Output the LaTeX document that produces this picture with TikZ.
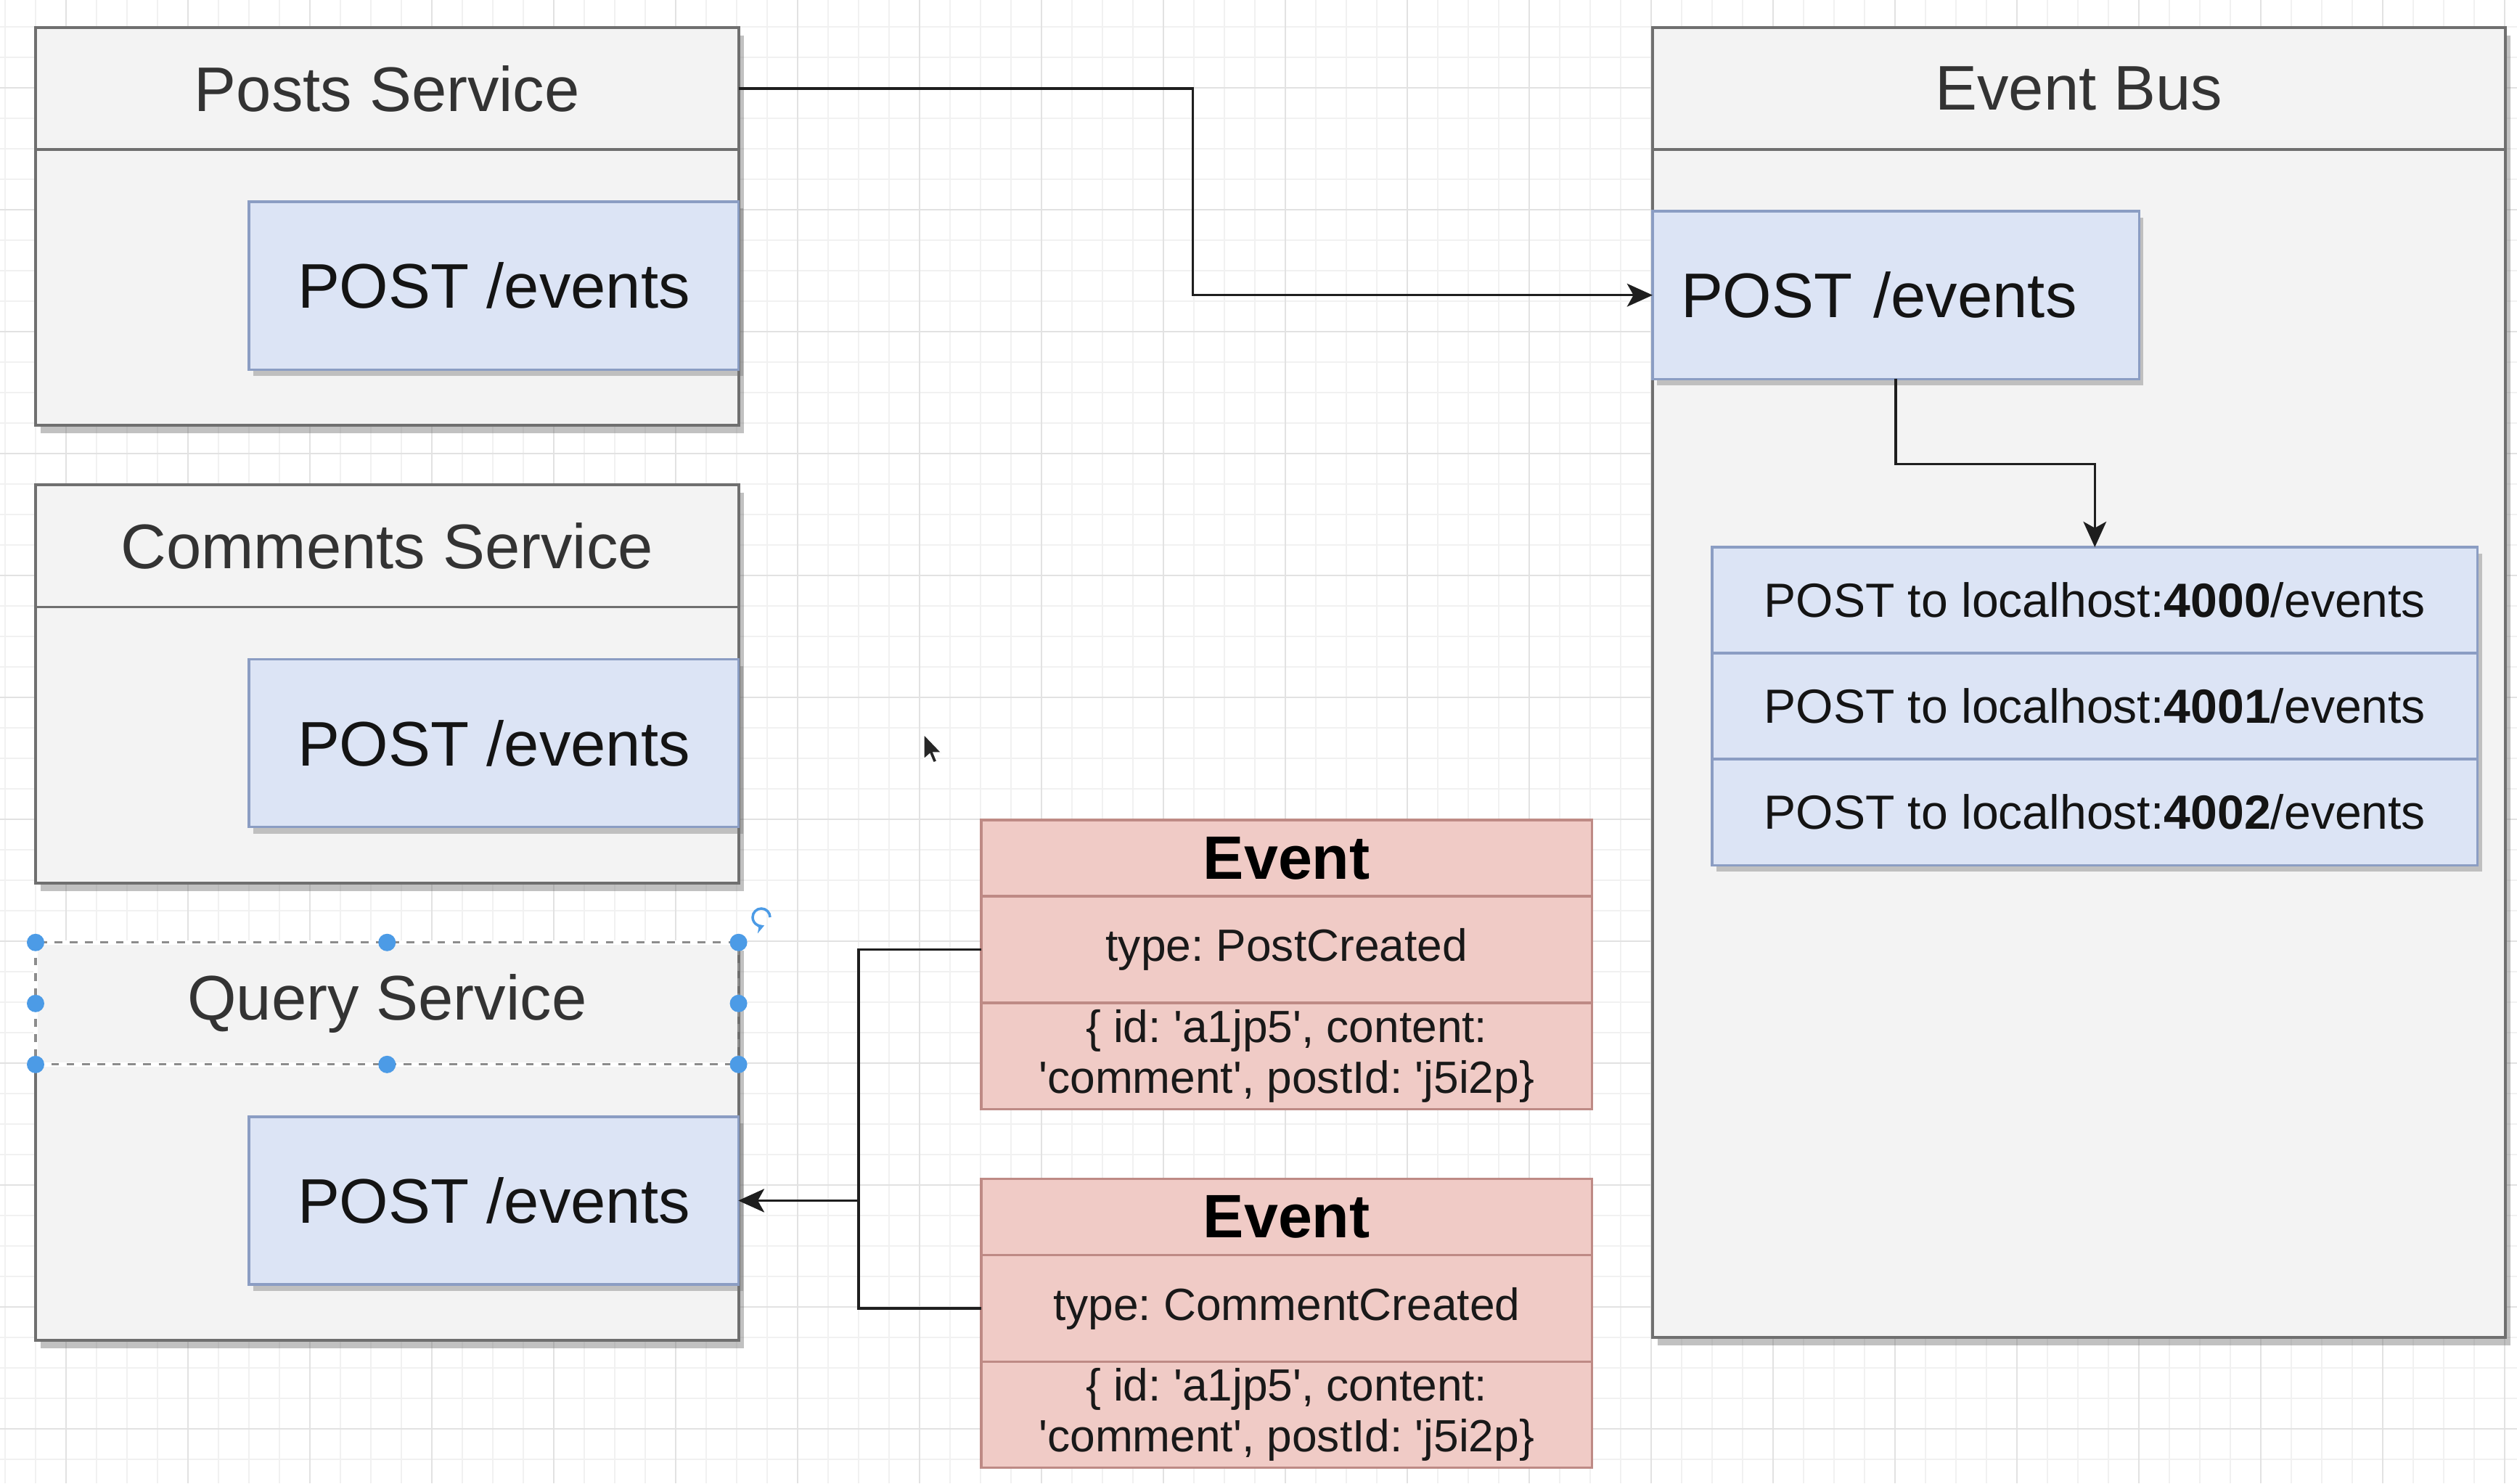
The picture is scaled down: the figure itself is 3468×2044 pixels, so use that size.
\documentclass[tikz,border=0pt]{standalone}
\usepackage{fontspec}
\setmainfont{Liberation Sans}
\usetikzlibrary{positioning, shadows, arrows.meta}

\definecolor{boxfill}{HTML}{F3F3F3}
\definecolor{boxline}{HTML}{6F6F6F}
\definecolor{headtext}{HTML}{333333}
\definecolor{blufill}{HTML}{DCE4F5}
\definecolor{bluline}{HTML}{8B9DC3}
\definecolor{redfill}{HTML}{F0CBC6}
\definecolor{redline}{HTML}{BE8A85}
\definecolor{linkcol}{HTML}{1E1E1E}
\definecolor{gridminor}{HTML}{F1F1F1}
\definecolor{gridmajor}{HTML}{E2E2E2}
\definecolor{selblue}{HTML}{4C9BE6}

\newcommand{\apos}{\textquotesingle}
\frenchspacing

\begin{document}
\begin{tikzpicture}[x=0.01cm, y=-0.01cm, outer sep=0pt,
    svcbox/.style={draw=boxline, fill=boxfill, line width=1.1pt, inner sep=0pt,
      minimum width=9.68cm, minimum height=5.48cm,
      drop shadow={shadow xshift=0.07cm, shadow yshift=-0.11cm, opacity=0.4, fill=black!60}},
    svchead/.style={draw=boxline, line width=1.1pt, inner sep=0pt, text=headtext,
      minimum width=9.68cm, minimum height=1.68cm, font=\fontsize{24.7}{29}\selectfont},
    endpoint/.style={draw=bluline, fill=blufill, line width=1pt, inner sep=0pt, text=black!92,
      minimum width=6.74cm, minimum height=2.31cm, font=\fontsize{24.7}{29}\selectfont,
      drop shadow={shadow xshift=0.06cm, shadow yshift=-0.09cm, opacity=0.4, fill=black!55}},
    hostrow/.style={draw=bluline, fill=blufill, line width=1pt, inner sep=0pt, text=black!92,
      minimum width=10.54cm, minimum height=1.46cm, font=\fontsize{18.8}{22}\selectfont,
      drop shadow={shadow xshift=0.06cm, shadow yshift=-0.09cm, opacity=0.4, fill=black!55}},
    evtitle/.style={draw=redline, fill=redfill, line width=1pt, inner sep=0pt, text=black,
      minimum width=8.41cm, minimum height=1.05cm, font=\fontsize{24}{28}\selectfont\bfseries},
    evrow/.style={draw=redline, fill=redfill, line width=1pt, inner sep=0pt, text=black!90,
      minimum width=8.41cm, minimum height=1.47cm, align=center, font=\fontsize{17.7}{20}\selectfont},
    link/.style={draw=linkcol, line width=1pt, -{Stealth[length=10pt, width=9pt, inset=2.5pt]}},
    seldot/.style={circle, fill=selblue, inner sep=0pt, minimum size=0.24cm}]

  \useasboundingbox (0,0) rectangle (3468,2044);
  \fill[white] (0,0) rectangle (3468,2044);
  \foreach \k in {0,...,82}
    \draw[gridminor, line width=0.6pt] ({7+42*\k},0) -- ({7+42*\k},2044);
  \foreach \k in {0,...,47}
    \draw[gridminor, line width=0.6pt] (0,{37+42*\k}) -- (3468,{37+42*\k});
  \foreach \k in {0,...,20}
    \draw[gridmajor, line width=0.6pt] ({91+168*\k},0) -- ({91+168*\k},2044);
  \foreach \k in {0,...,11}
    \draw[gridmajor, line width=0.6pt] (0,{121+168*\k}) -- (3468,{121+168*\k});

  \node[svcbox, anchor=north west] (postsBox) at (49,38) {};
  \node[svchead, anchor=north] (postsHead) at (postsBox.north) {Posts Service};
  \node[endpoint, anchor=north east] (postsPost) at ([yshift=-2.40cm]postsBox.north east) {POST /events};

  \node[svcbox] [below=0.82cm of postsBox] (commentsBox) {};
  \node[svchead, anchor=north] (commentsHead) at (commentsBox.north) {Comments Service};
  \node[endpoint, anchor=north east] (commentsPost) at ([yshift=-2.40cm]commentsBox.north east) {POST /events};

  \node[svcbox] [below=0.82cm of commentsBox] (queryBox) {};
  \node[svchead, draw=none, anchor=north] (queryHead) at (queryBox.north) {Query Service};
  \node[endpoint, anchor=north east] (queryPost) at ([yshift=-2.40cm]queryBox.north east) {POST /events};

  \node[svcbox, minimum width=11.74cm, minimum height=18.04cm, anchor=north west] (busBox) at (2277,38) {};
  \node[svchead, minimum width=11.74cm, anchor=north] (busHead) at (busBox.north) {Event Bus};
  \node[endpoint, minimum width=6.70cm, text width=5.92cm, align=left, inner xsep=0.39cm, anchor=north west]
    (busPost) at ([yshift=-2.53cm]busBox.north west) {POST /events};

  \node[hostrow, anchor=north west] (host0) at (2359,754) {POST to localhost:\textbf{4000}/events};
  \node[hostrow] [below=0pt of host0] (host1) {POST to localhost:\textbf{4001}/events};
  \node[hostrow] [below=0pt of host1] (host2) {POST to localhost:\textbf{4002}/events};

  \node[evtitle, anchor=north west] (ev1Head) at (1352,1130) {Event};
  \node[evrow] [below=0pt of ev1Head] (ev1Type) {type: PostCreated};
  \node[evrow, minimum height=1.46cm] [below=0pt of ev1Type] (ev1Data)
    {\{ id: \apos a1jp5\apos, content:\\\apos comment\apos, postId: \apos j5i2p\}};
  \node[evtitle] [below=0.96cm of ev1Data] (ev2Head) {Event};
  \node[evrow] [below=0pt of ev2Head] (ev2Type) {type: CommentCreated};
  \node[evrow, minimum height=1.46cm] [below=0pt of ev2Type] (ev2Data)
    {\{ id: \apos a1jp5\apos, content:\\\apos comment\apos, postId: \apos j5i2p\}};

  \draw[link] (postsHead.east) -- ++(626,0) |- (busPost.west);
  \draw[link] (busPost.south) -- ++(0,117) -| (host0.north);
  \draw[link] (ev1Type.west) -- ++(-169,0) |- (queryPost.east);
  \draw[link] (ev2Type.west) -- ++(-169,0) |- (queryPost.east);

  \draw[white, line width=1.6pt] (queryHead.north east) -- (queryHead.north west)
    -- (queryHead.south west) -- (queryHead.south east);
  \draw[boxline!80, line width=0.9pt, dashed] (queryHead.north west) rectangle (queryHead.south east);
  \foreach \a in {north west, north, north east, west, east, south west, south, south east}
    \node[seldot] (sel \a) at (queryHead.\a) {};
  \coordinate (rotIcon) at (1049,1264);
  \draw[selblue, line width=1pt, -{Stealth[length=3.5pt, width=4pt]}]
    ([xshift=0.12cm]rotIcon) arc[start angle=0, end angle=290, radius=0.12cm];

  \fill[black!85, draw=white, line width=0.4pt, shift={(1273,1012)}]
    (0,0) -- (0,34) -- (8,27) -- (13,39) -- (18,37) -- (13,25) -- (24,25) -- cycle;
\end{tikzpicture}
\end{document}
